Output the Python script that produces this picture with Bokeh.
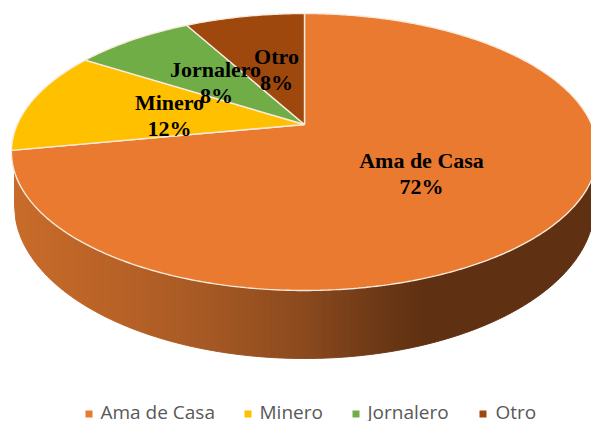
import numpy as np
from bokeh.plotting import figure
from bokeh.models import Range1d
from bokeh.core.properties import value
from bokeh.embed import file_html
from bokeh.resources import INLINE

categories = ["Ama de Casa", "Minero", "Jornalero", "Otro"]
values = [72, 12, 8, 8]
colors = ["#E97A2F", "#FFC000", "#70AD47", "#9E480E"]

W, H = 591, 421
p = figure(width=W, height=H, output_backend="svg", toolbar_location=None,
           x_range=Range1d(0, W), y_range=Range1d(H, 0),
           min_border=0, outline_line_color=None)
p.axis.visible = False
p.grid.visible = False
p.background_fill_color = "white"
p.border_fill_color = "white"

# perspective view of the top disc
AX, AY = 304.0, 124.0
B, A, C = 0.1986, 133.0, 287.2


def project(t):
    X, Y = np.sin(t), np.cos(t)
    d = 1 + B * Y
    return AX + C * X / d, AY - A * Y / d


def top_lower(x):
    cx, cy, rx, ry = 304.0, 151.5, 293.0, 138.5
    return cy + ry * np.sqrt(np.clip(1 - ((x - cx) / rx) ** 2, 0, 1))


def bot_lower(x):
    cx, cy, rx, ry = 304.0, 205.0, 290.0, 153.0
    return cy + ry * np.sqrt(np.clip(1 - ((x - cx) / rx) ** 2, 0, 1))


# side wall, shaded bands
stops_x = [14, 120, 200, 304, 370, 425, 600]
stops_rgb = np.array([[0xC8, 0x6C, 0x2A], [0xB8, 0x62, 0x27], [0xA8, 0x5A, 0x25],
                      [0x8B, 0x4A, 0x1E], [0x70, 0x3B, 0x17], [0x5F, 0x30, 0x12], [0x5F, 0x30, 0x12]])
edges = np.arange(14, 596, 4.0)
xs, ys, cols = [], [], []
for a, b in zip(edges[:-1], edges[1:]):
    sx = np.linspace(a, b, 4)
    xs.append(list(sx) + list(sx[::-1]))
    ys.append(list(top_lower(sx) - 2) + list(bot_lower(sx[::-1])))
    m = (a + b) / 2
    rgb = [int(np.interp(m, stops_x, stops_rgb[:, i])) for i in range(3)]
    cols.append("#%02x%02x%02x" % tuple(rgb))
p.patches(xs, ys, fill_color=cols, line_color=cols, line_width=1)

# top slices, clockwise from twelve o'clock
total = sum(values)
start = 0.0
for v, c in zip(values, colors):
    end = start + v / total * 2 * np.pi
    t = np.linspace(start, end, max(int(v * 6), 12))
    x, y = project(t)
    p.patch([AX] + list(x), [AY] + list(y), fill_color=c, line_color="#F8EBDD", line_width=1.4)
    start = end

# data labels
pct = [f"{v}%" for v in values]
label_x = [421, 169, 215, 276]
label_y = [160, 102, 69, 56]
serif = dict(text_font=value("Liberation Serif"), text_font_style="bold", text_font_size="22px",
             text_color="black", text_align="center", text_baseline="alphabetic")
p.text(label_x, label_y, text=categories, **serif)
p.text([421, 169, 216, 276], [y + 26 for y in label_y], text=pct, **serif)

# legend
marker_x = [88.5, 247.5, 355.5, 482.5]
text_x = [100, 259, 367, 495]
p.rect(marker_x, [413.5] * 4, width=7, height=7, fill_color=colors, line_color=None)
p.text(text_x, [411.5] * 4, text=categories, text_font=value("Open Sans"), text_font_size="19px",
       text_color="#595959", text_align="left", text_baseline="middle")

open("out.html", "w").write(file_html(p, INLINE))
